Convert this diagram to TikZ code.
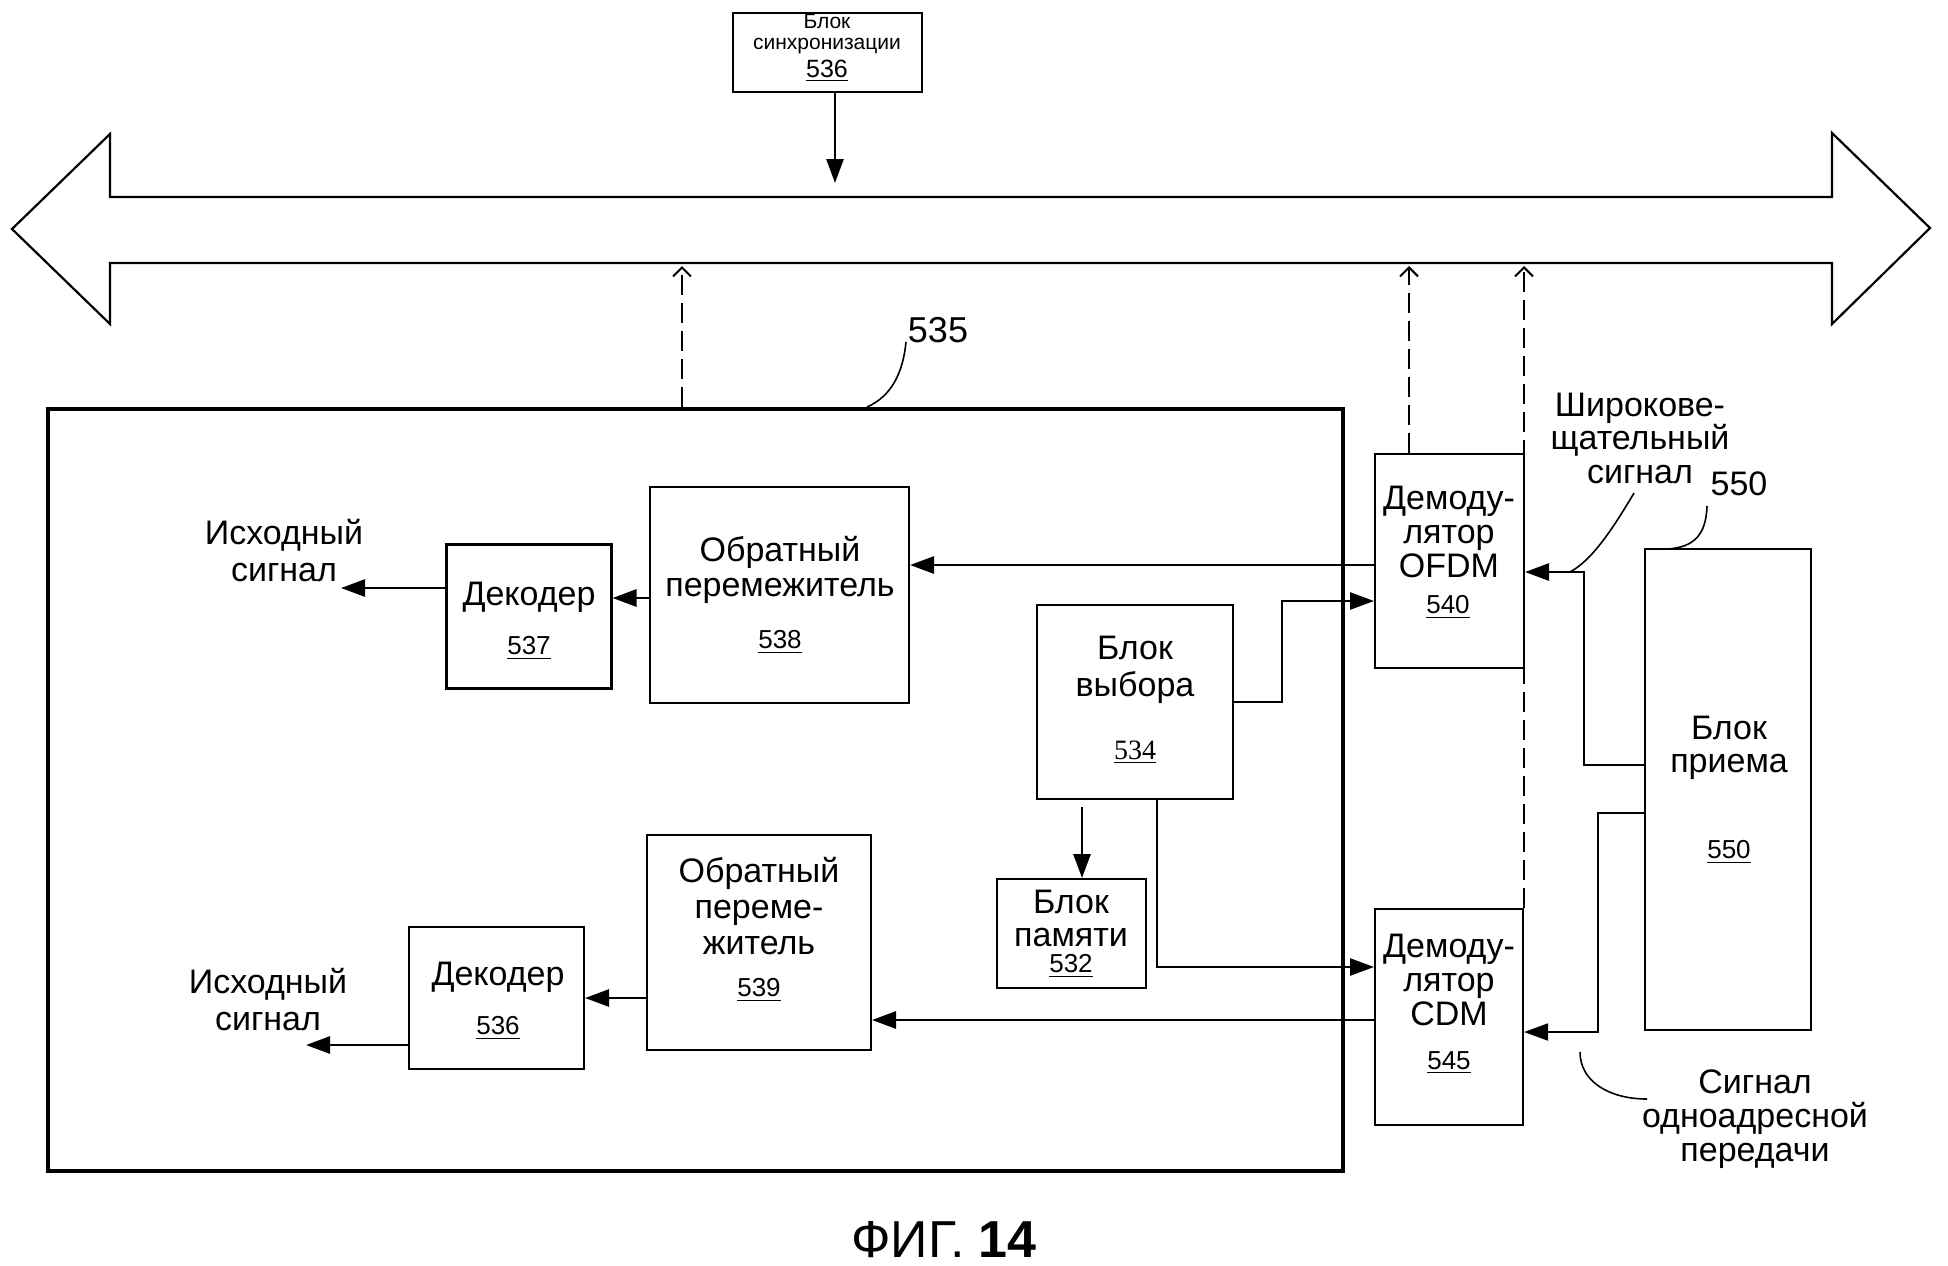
\documentclass[tikz,border=0pt]{standalone}
\usepackage{fontspec}
\setmainfont{Liberation Sans}
\newfontfamily\serifnum{Liberation Serif}
\usetikzlibrary{arrows.meta}
\begin{document}
\begin{tikzpicture}[x=0.5pt,y=-0.5pt,
  box/.style={draw, line width=1pt, inner sep=0},
  txt/.style={inner sep=0, align=center, font=\fontsize{17}{17.5}\selectfont},
  num/.style={inner sep=0, font=\fontsize{13}{13}\selectfont},
  arr/.style={line width=1.4pt, -{Triangle[length=12pt,width=8.5pt]}},
  thinarr/.style={line width=0.9pt, -{Triangle[length=12pt,width=8.5pt]}},
  dasharr/.style={line width=1pt, dash pattern=on 10pt off 4pt, -{Straight Barb[length=4.5pt,width=9pt]}},
  leader/.style={line width=0.8pt}]
\useasboundingbox (0,0) rectangle (1948,1265);

% bus (double-headed arrow)
\draw[line width=1.1pt, line join=miter] (110,197) -- (1832,197) -- (1832,133) -- (1930,228) -- (1832,324) -- (1832,263) -- (110,263) -- (110,324) -- (12,229) -- (110,134) -- cycle;

% boxes
\node[box, minimum width=94.5pt, minimum height=39.5pt] (sync) at (827.5,52.5) {};
\node[box, line width=2pt, minimum width=647.5pt, minimum height=381pt] (b535) at (695.5,790) {};
\node[box, line width=1.5pt, minimum width=82.5pt, minimum height=72pt] (dec537) at (528.5,616) {};
\node[box, minimum width=129.5pt, minimum height=108pt] (inv538) at (779.5,595) {};
\node[box, minimum width=98pt, minimum height=97pt] (sel) at (1135,702) {};
\node[box, minimum width=74.5pt, minimum height=54.5pt] (mem) at (1071.5,933.5) {};
\node[box, minimum width=112pt, minimum height=107.5pt] (inv539) at (759,942.5) {};
\node[box, minimum width=87.5pt, minimum height=71pt] (dec536) at (496.5,998) {};
\node[box, minimum width=74.5pt, minimum height=107pt] (ofdm) at (1449.5,561) {};
\node[box, minimum width=74pt, minimum height=108pt] (cdm) at (1449,1017) {};
\node[box, minimum width=83pt, minimum height=240.5pt] (rx) at (1728,789.5) {};

% texts
\node[inner sep=0, align=center, font=\fontsize{10.5}{10.5}\selectfont] (tsync) at (827,34) {Блок\\синхронизации};
\node[inner sep=0, font=\fontsize{12.5}{12.5}\selectfont] (nsync) at (827,71) {\underline{536}};
\node[txt] (t537) at (529,597) {Декодер};
\node[num] (n537) at (529,648) {\underline{537}};
\node[txt] (t538) at (780,570) {Обратный\\перемежитель};
\node[num] (n538) at (780,642) {\underline{538}};
\node[txt, font=\fontsize{17}{18.5}\selectfont] (out1t) at (284,551) {Исходный\\сигнал};
\node[txt, font=\fontsize{17}{18.5}\selectfont] (tsel) at (1135,670) {Блок\\выбора};
\node[num, font=\serifnum\fontsize{14}{14}\selectfont] (nsel) at (1135,752) {\underline{534}};
\node[txt, font=\fontsize{17}{16.5}\selectfont] (tmem) at (1071,918) {Блок\\памяти};
\node[num] (nmem) at (1071,966) {\underline{532}};
\node[txt, font=\fontsize{17}{18}\selectfont] (t539) at (759,906) {Обратный\\переме-\\житель};
\node[num] (n539) at (759,990) {\underline{539}};
\node[txt] (t536) at (498,977) {Декодер};
\node[num] (n536) at (498,1028) {\underline{536}};
\node[txt, font=\fontsize{17}{18.5}\selectfont] (out2t) at (268,1000) {Исходный\\сигнал};
\node[txt, font=\fontsize{17}{17}\selectfont] (tofdm) at (1449,532) {Демоду-\\лятор\\OFDM};
\node[num] (nofdm) at (1448,607) {\underline{540}};
\node[txt, font=\fontsize{17}{17}\selectfont] (tcdm) at (1449,980) {Демоду-\\лятор\\CDM};
\node[num] (ncdm) at (1449,1063) {\underline{545}};
\node[txt, font=\fontsize{17}{16.5}\selectfont] (trx) at (1729,748) {Блок\\приема};
\node[num] (nrx) at (1729,852) {\underline{550}};
\node[txt, font=\fontsize{17}{16.75}\selectfont] (tbc) at (1640,438) {Широкове-\\щательный\\сигнал};
\node[txt, font=\fontsize{17}{17}\selectfont] (tuc) at (1755,1119) {Сигнал\\одноадресной\\передачи};
\node[inner sep=0, font=\fontsize{18}{18}\selectfont] (l535) at (938,330) {535};
\node[inner sep=0, font=\fontsize{17}{17}\selectfont] (l550) at (1739,484) {550};
\node[inner sep=0, font=\fontsize{26}{26}\selectfont] (fig) at (944,1240) {ФИГ. \textbf{14}};

% coordinates
\coordinate (syncTip) at (835,183);
\coordinate (busA) at (682,266);
\coordinate (busB) at (1409,266);
\coordinate (busC) at (1524,266);
\coordinate (out1) at (341,588);
\coordinate (out2) at (306,1045);
\coordinate (selJ) at (1282,601);
\coordinate (memTop) at (1082,807);
\coordinate (selC) at (1157,967);
\coordinate (rxA) at (1584,572);
\coordinate (rxB) at (1584,765);
\coordinate (rxC) at (1598,813);
\coordinate (rxD) at (1598,1032);

% connectors
\draw[arr] (sync.south -| syncTip) -- (syncTip);
\draw[dasharr] (b535.north -| busA) -- (busA);
\draw[dasharr] (ofdm.north -| busB) -- (busB);
\draw[dasharr] (cdm.north east) -- (busC);
\draw[arr] ([yshift=-2pt]ofdm.west) -- ([yshift=-2pt]ofdm.west -| inv538.east);
\draw[arr] ([yshift=-1.5pt]inv538.west) -- ([yshift=-1.5pt]inv538.west -| dec537.east);
\draw[arr] (dec537.west |- out1) -- (out1);
\draw[arr] (sel.east) -| (selJ) -- (selJ -| ofdm.west);
\draw[arr] (memTop) -- (memTop |- mem.north);
\draw[arr] (selC |- sel.south) -- (selC) -- (selC -| cdm.west);
\draw[arr] ([yshift=-1.5pt]cdm.west) -- ([yshift=-1.5pt]cdm.west -| inv539.east);
\draw[arr] (inv539.west |- dec536.east) -- (dec536.east);
\draw[arr] (dec536.west |- out2) -- (out2);
\draw[arr] (rxB -| rx.west) -- (rxB) -- (rxA) -- (rxA -| ofdm.east);
\draw[thinarr] (rxC -| rx.west) -- (rxC) -- (rxD) -- (rxD -| cdm.east);

% leader curves
\draw[leader] (867,407) .. controls (892,396) and (903,372) .. (906,342);
\draw[leader] (1634,493) .. controls (1612,530) and (1592,560) .. (1570,572);
\draw[leader] (1707,506) .. controls (1706,535) and (1694,547) .. (1668,549);
\draw[leader] (1580,1052) .. controls (1580,1082) and (1610,1099) .. (1647,1099);
\end{tikzpicture}
\end{document}
